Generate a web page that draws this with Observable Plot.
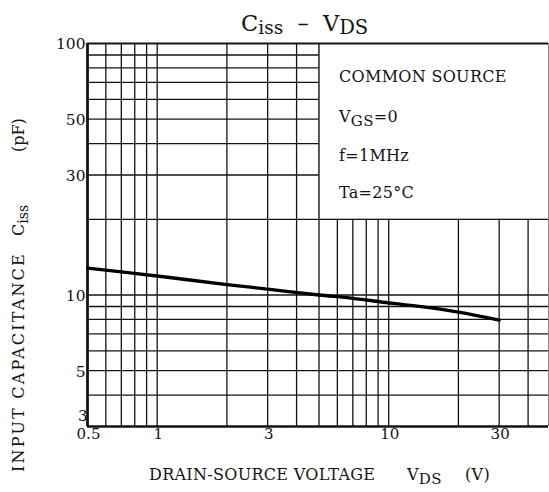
<!DOCTYPE html>
<html>
<head>
<meta charset="utf-8">
<script src="https://cdn.jsdelivr.net/npm/d3@7"></script>
<script src="https://cdn.jsdelivr.net/npm/@observablehq/plot@0.6"></script>
<style>
  html, body { margin: 0; padding: 0; background: #fff; }
</style>
</head>
<body>
<div id="chart"></div>
<script>
// Data
const vds  = [0.5, 0.7, 1, 2, 3, 5, 7, 10, 15, 20, 30];
const ciss = [12.8, 12.35, 11.9, 11.0, 10.55, 10.0, 9.7, 9.3, 8.9, 8.55, 7.95];
const xGrid = [0.6, 0.7, 0.8, 0.9, 1, 2, 3, 4, 5, 6, 7, 8, 9, 10, 20, 30, 40];
const yGrid = [4, 5, 6, 7, 8, 9, 10, 20, 30, 40, 50, 60, 70, 80, 90];
const xTicks = [0.5, 1, 3, 10, 30];
const yTicks = [5, 10, 30, 50, 100];
const yTickBottom = [3];
const legendLines = ["COMMON SOURCE", "VGS=0", "f=1MHz", "Ta=25°C"];

const data = vds.map((v, i) => ({vds: v, ciss: ciss[i]}));
const ink = "#141414";
const font = "'DejaVu Serif', 'Liberation Serif', serif";

const chart = Plot.plot({
  width: 549,
  height: 492,
  marginLeft: 87,
  marginRight: 1,
  marginTop: 43,
  marginBottom: 66,
  style: {fontFamily: font, fontSize: "15px", color: ink, background: "#fff"},
  x: {type: "log", domain: [0.5, 49], axis: null},
  y: {type: "log", domain: [3, 100], axis: null},
  marks: [
    Plot.ruleX(xGrid, {stroke: ink, strokeWidth: 1.3}),
    Plot.ruleY(yGrid, {stroke: ink, strokeWidth: 1.3}),
    Plot.rect([{}], {x1: 5, x2: 49, y1: 20, y2: 100, fill: "white"}),
    Plot.ruleX([5], {y1: 20, y2: 100, stroke: ink, strokeWidth: 1.3}),
    Plot.ruleY([20], {x1: 5, x2: 49, stroke: ink, strokeWidth: 1.3}),
    Plot.ruleX([49], {stroke: "#888", strokeWidth: 1}),
    Plot.ruleY([100], {stroke: ink, strokeWidth: 2.2}),
    Plot.ruleX([0.5], {stroke: ink, strokeWidth: 2.8}),
    Plot.ruleY([3], {stroke: ink, strokeWidth: 2.5}),
    Plot.line(data, {x: "vds", y: "ciss", curve: "monotone-x", stroke: "#000", strokeWidth: 3.3}),
    Plot.text(xTicks, {x: d => d, frameAnchor: "bottom", dy: 12, dx: 1, text: d => String(d), fontSize: 15, fill: ink}),
    Plot.text(yTicks, {y: d => d, frameAnchor: "left", dx: -2, dy: 1, textAnchor: "end", text: d => String(d), fontSize: 15.5, fill: ink}),
    Plot.text(yTickBottom, {y: d => d, frameAnchor: "left", dx: 0, dy: -10, textAnchor: "end", text: d => String(d), fontSize: 15, fill: ink})
  ]
});
document.getElementById("chart").appendChild(chart);

const svg = d3.select(chart);

function rich(parent, parts) {
  parts.forEach(p => {
    const t = parent.append("tspan").text(p.t);
    if (p.x != null) t.attr("x", p.x);
    if (p.dy) t.attr("dy", p.dy);
    if (p.size) t.attr("font-size", p.size);
  });
}

// Title: C_iss – V_DS
const title = svg.append("text")
  .attr("x", 241).attr("y", 31)
  .attr("text-anchor", "start")
  .attr("font-family", font).attr("font-size", 22.5).attr("fill", ink)
  .style("white-space", "pre");
rich(title, [
  {t: "C"}, {t: "iss", dy: 3, size: 18.5}, {t: "  –  V", dy: -3}, {t: "DS", dy: 3, size: 19.5}
]);

// X axis title
const xt = svg.append("text")
  .attr("x", 149).attr("y", 480)
  .attr("text-anchor", "start")
  .attr("font-family", font).attr("font-size", 16).attr("fill", ink)
  .attr("letter-spacing", 0.3)
  .style("white-space", "pre");
rich(xt, [
  {t: "DRAIN-SOURCE VOLTAGE"}, {t: "V", x: 407}, {t: "DS", dy: 4, size: 15}, {t: "(V)", x: 465, dy: -4}
]);

// Y axis title (three pieces, rotated)
function yPiece(y, parts, ls) {
  const el = svg.append("text")
    .attr("transform", `translate(24,${y}) rotate(-90)`)
    .attr("text-anchor", "start")
    .attr("font-family", font).attr("font-size", 16).attr("fill", ink)
    .attr("letter-spacing", ls || 0)
    .style("white-space", "pre");
  rich(el, parts);
}
yPiece(472, [{t: "INPUT CAPACITANCE"}], 2.2);
yPiece(236, [{t: "C"}, {t: "iss", dy: 4, size: 14}]);
yPiece(152, [{t: "(pF)"}]);

// Legend box text
const lx = 339;
const lys = [81.5, 121.5, 160.5, 198];
legendLines.forEach((t, i) => {
  const el = svg.append("text")
    .attr("x", lx).attr("y", lys[i])
    .attr("text-anchor", "start")
    .attr("font-family", font).attr("font-size", 16).attr("fill", ink)
    .attr("letter-spacing", 0.3)
    .style("white-space", "pre");
  if (t.startsWith("VGS")) {
    rich(el, [{t: "V"}, {t: "GS", dy: 4, size: 15}, {t: "=0", dy: -4}]);
  } else {
    el.text(t);
  }
});
</script>
</body>
</html>
